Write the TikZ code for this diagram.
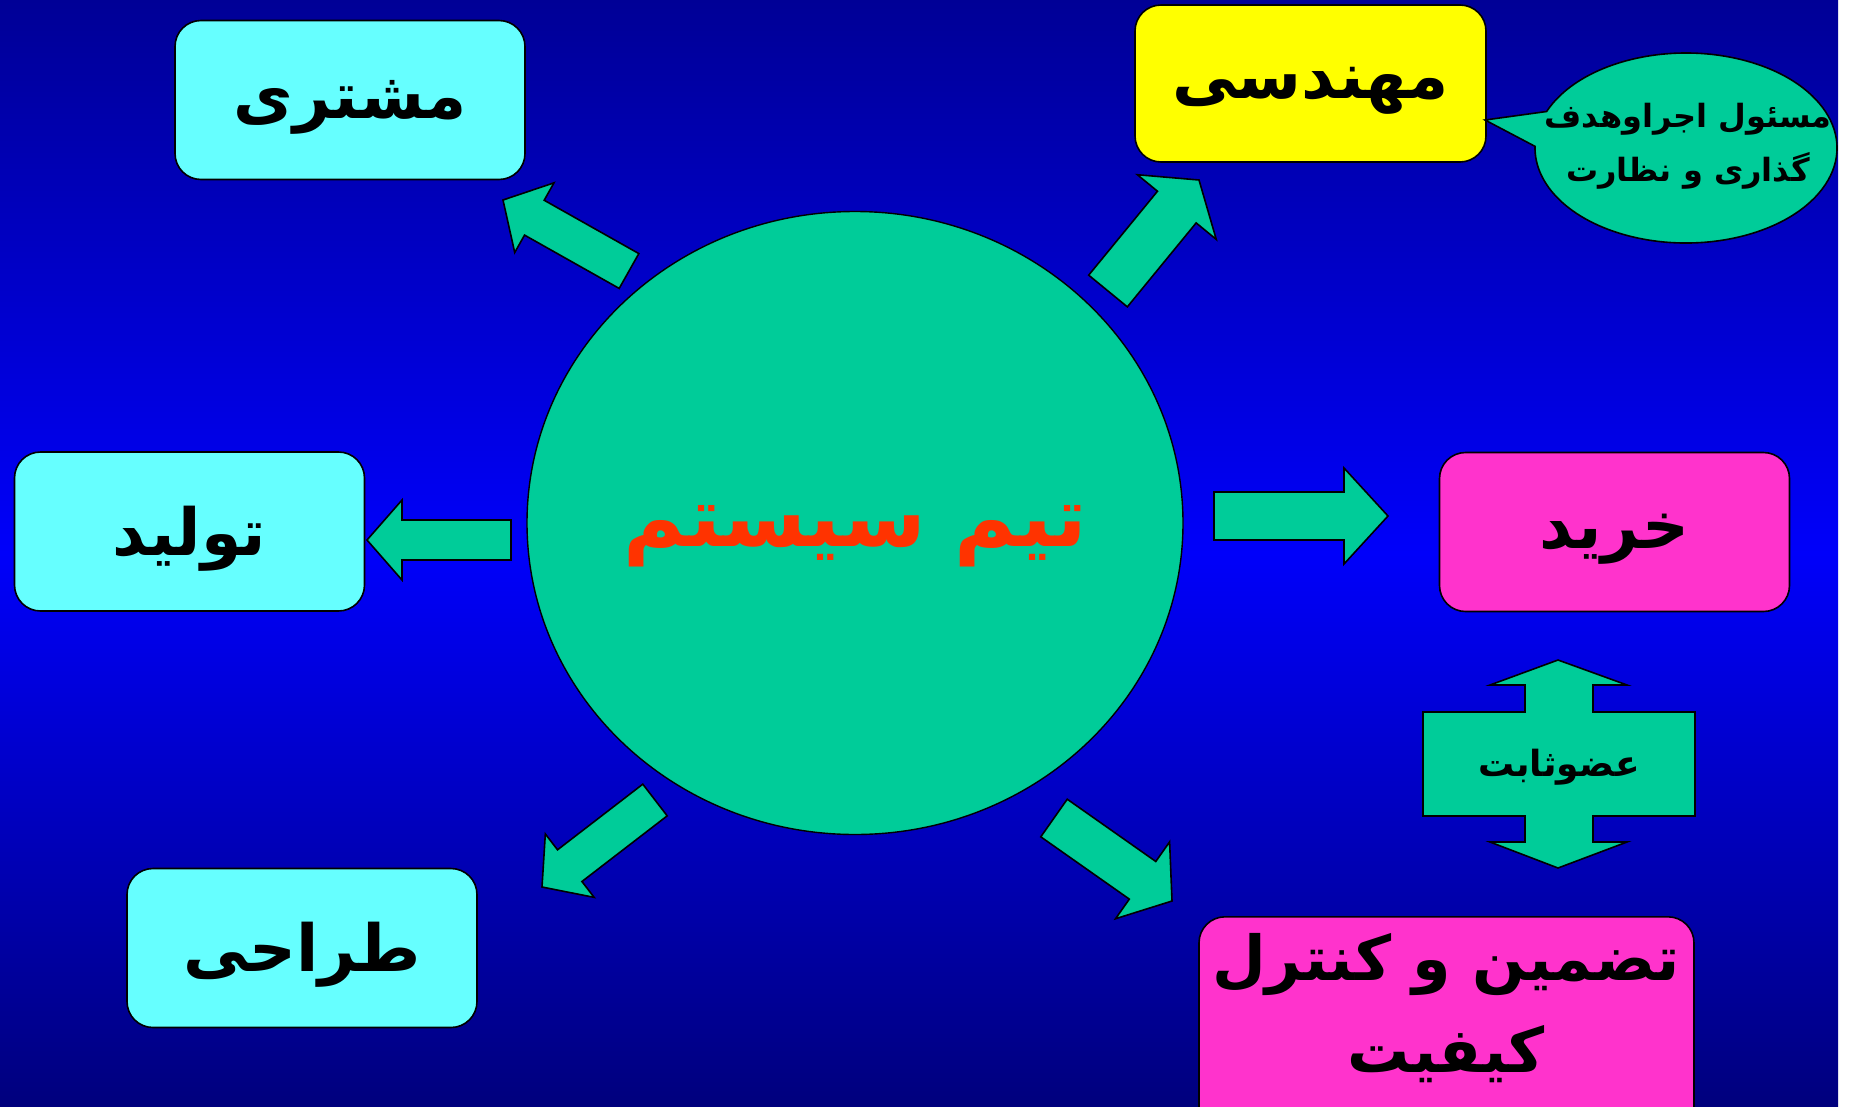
\documentclass[tikz,border=0pt]{standalone}
\usepackage{fontspec}
\newfontfamily\arabicfont[Script=Arabic]{DejaVu Sans}
\TeXXeTstate=1
\usetikzlibrary{calc,positioning,shapes.geometric}

\definecolor{bgtop}{RGB}{0,0,150}
\definecolor{bgmid}{RGB}{0,0,250}
\definecolor{bgbot}{RGB}{0,0,125}
\definecolor{teamgreen}{RGB}{0,204,153}
\definecolor{teamred}{RGB}{255,51,0}
\definecolor{boxcyan}{RGB}{102,255,255}
\definecolor{boxyellow}{RGB}{255,255,0}
\definecolor{boxpink}{RGB}{255,51,204}

\tikzset{
	%Define style for boxes
	unit/.style = {shape=rectangle, rounded corners=26pt,
		draw=black, line width=1.6pt, inner sep=0pt, align=center,
		minimum width=350, minimum height=159},
	cyanbox/.style   = {unit, fill=boxcyan},
	yellowbox/.style = {unit, fill=boxyellow},
	pinkbox/.style   = {unit, fill=boxpink},
	unittext/.style  = {font=\arabicfont\bfseries\fontsize{65}{92}\selectfont, align=center},
	% Define block arrow style
	blkarrow/.style = {fill=teamgreen, draw=black, line width=1.6pt, line join=miter}
}

% block arrow: tail, tip, half shaft, half head, head length
\newcommand{\blkarrow}[5]{%
	\coordinate (hb) at ($(#2)!#5!(#1)$);
	\draw[blkarrow] ($(#1)!#3!90:(#2)$) -- ($(hb)!#3!-90:(#1)$) -- ($(hb)!#4!-90:(#1)$)
	-- (#2) -- ($(hb)!#4!90:(#1)$) -- ($(hb)!#3!90:(#1)$) -- ($(#1)!#3!-90:(#2)$) -- cycle;}

\begin{document}
\begin{tikzpicture}[x=1pt, y=-1pt]
	\clip (0,0) rectangle (1860,1106);
	\fill[white] (0,0) rectangle (1860,1106);
	\shade[top color=bgtop, bottom color=bgbot, middle color=bgmid] (0,0) rectangle (1838,1106);

	% system team
	\node[ellipse, fill=teamgreen, draw=black, line width=1.4pt, inner sep=0pt,
		minimum width=656, minimum height=623] (team) at (855,523) {};
	\node[text=teamred, font=\arabicfont\bfseries\fontsize{84}{100}\selectfont] (teamtext) at (855,536)
		{\beginR تیم سیستم\endR};

	% departments
	\node[cyanbox] (cust) at (350,100) {};
	\node[yellowbox, minimum width=351, minimum height=157] (eng) at (1310.5,83.5) {};
	\node[cyanbox] (prod) at (189.5,531.5) {};
	\node[pinkbox] (buy) at (1614.5,532) {};
	\node[cyanbox] (design) at (302,948) {};
	\node[pinkbox, minimum width=495, minimum height=230, anchor=north] (qc) at (1446.5,916) {};

	\node[unittext] at ($(cust)+(0,7)$) {\beginR مشتری\endR};
	\node[unittext] at ($(eng)+(0,7)$) {\beginR مهندسی\endR};
	\node[unittext] at ($(prod)+(0,7)$) {\beginR تولید\endR};
	\node[unittext] at ($(buy)+(0,7)$) {\beginR خرید\endR};
	\node[unittext] at ($(design)+(0,7)$) {\beginR طراحی\endR};
	\node[unittext, font=\arabicfont\bfseries\fontsize{62}{92}\selectfont] (qctext) at (1446,1008)
		{\beginR تضمین و کنترل\endR\\\beginR کیفیت\endR};

	% arrows out of the team
	\coordinate (t1) at (629,271);  \coordinate (h1) at (503,200);
	\coordinate (t2) at (1108,291); \coordinate (h2) at (1199,180);
	\coordinate (t3) at (511,540);  \coordinate (h3) at (367,540);
	\coordinate (t4) at (1214,516); \coordinate (h4) at (1388,516);
	\coordinate (t5) at (655,800);  \coordinate (h5) at (542,887);
	\coordinate (t6) at (1054,818); \coordinate (h6) at (1172,901);
	\blkarrow{t1}{h1}{20pt}{40pt}{36pt}
	\blkarrow{t2}{h2}{25pt}{51pt}{35pt}
	\blkarrow{t3}{h3}{20pt}{40pt}{35pt}
	\blkarrow{t4}{h4}{24pt}{48pt}{44pt}
	\blkarrow{t5}{h5}{20pt}{40pt}{35pt}
	\blkarrow{t6}{h6}{23pt}{47pt}{36pt}

	% callout of engineering
	\coordinate (ctip) at (1485,120);
	\draw[blkarrow] (ctip) -- (1546.6,111.5)
		arc[start angle=202.6, end angle=541, x radius=151, y radius=95] -- cycle;
	\node[font=\arabicfont\bfseries\fontsize{32}{54}\selectfont, align=center] (duty) at (1688,146)
		{\beginR مسئول اجراوهدف\endR\\\beginR گذاری و نظارت\endR};

	% fixed member, between buy and qc
	\draw[blkarrow] (1558,660) -- (1627,685) -- (1593,685) -- (1593,712) -- (1695,712)
		-- (1695,816) -- (1593,816) -- (1593,842) -- (1627,842) -- (1558,868)
		-- (1490,842) -- (1525,842) -- (1525,816) -- (1423,816) -- (1423,712)
		-- (1525,712) -- (1525,685) -- (1490,685) -- cycle;
	\node[font=\arabicfont\bfseries\fontsize{36}{40}\selectfont] (fixed) at (1559,767) {\beginR عضوثابت\endR};
\end{tikzpicture}
\end{document}
